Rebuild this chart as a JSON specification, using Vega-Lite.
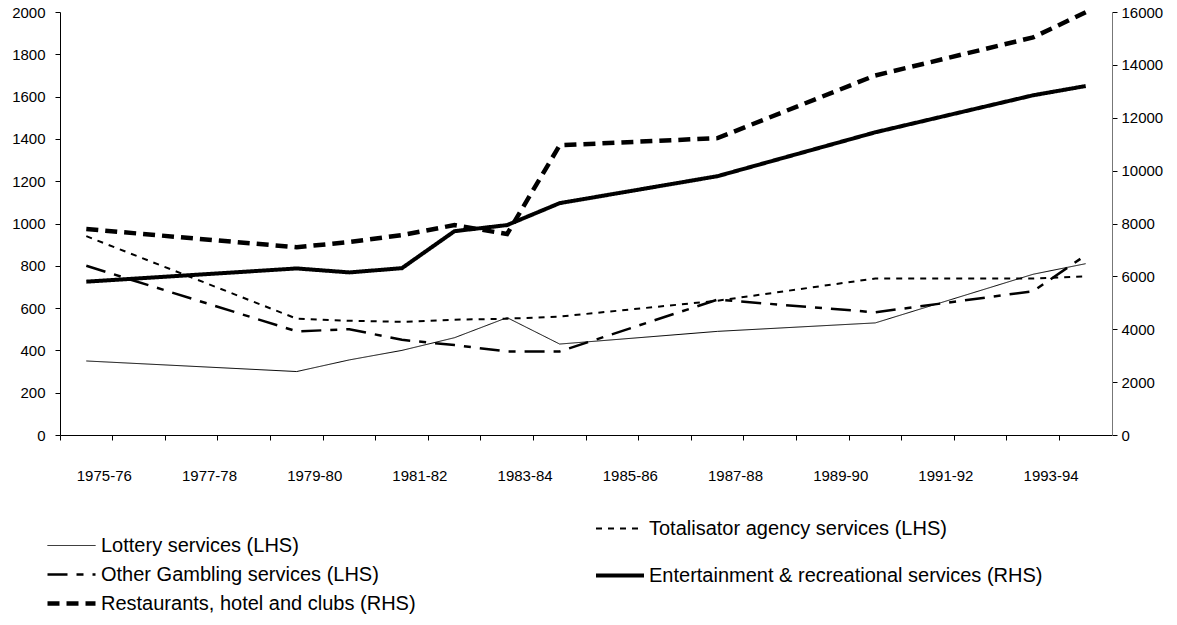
{
  "$schema": "https://vega.github.io/schema/vega-lite/v6.json",
  "width": 1052,
  "height": 423,
  "autosize": {"type": "none"},
  "padding": {"left": 60, "top": 12, "right": 65, "bottom": 190},
  "background": "white",
  "datasets": {
    "d": [
      {"series": "Lottery services (LHS)", "year": "1975-76", "value": 350},
      {"series": "Lottery services (LHS)", "year": "1979-80", "value": 300},
      {"series": "Lottery services (LHS)", "year": "1980-81", "value": 355},
      {"series": "Lottery services (LHS)", "year": "1981-82", "value": 400},
      {"series": "Lottery services (LHS)", "year": "1982-83", "value": 460},
      {"series": "Lottery services (LHS)", "year": "1983-84", "value": 555},
      {"series": "Lottery services (LHS)", "year": "1984-85", "value": 430},
      {"series": "Lottery services (LHS)", "year": "1987-88", "value": 490},
      {"series": "Lottery services (LHS)", "year": "1990-91", "value": 530},
      {"series": "Lottery services (LHS)", "year": "1993-94", "value": 760},
      {"series": "Lottery services (LHS)", "year": "1994-95", "value": 810},
      {"series": "Other Gambling services (LHS)", "year": "1975-76", "value": 800},
      {"series": "Other Gambling services (LHS)", "year": "1979-80", "value": 490},
      {"series": "Other Gambling services (LHS)", "year": "1980-81", "value": 500},
      {"series": "Other Gambling services (LHS)", "year": "1981-82", "value": 450},
      {"series": "Other Gambling services (LHS)", "year": "1982-83", "value": 425},
      {"series": "Other Gambling services (LHS)", "year": "1983-84", "value": 395},
      {"series": "Other Gambling services (LHS)", "year": "1984-85", "value": 395},
      {"series": "Other Gambling services (LHS)", "year": "1987-88", "value": 640},
      {"series": "Other Gambling services (LHS)", "year": "1990-91", "value": 580},
      {"series": "Other Gambling services (LHS)", "year": "1993-94", "value": 680},
      {"series": "Other Gambling services (LHS)", "year": "1994-95", "value": 850},
      {"series": "Totalisator agency services (LHS)", "year": "1975-76", "value": 940},
      {"series": "Totalisator agency services (LHS)", "year": "1979-80", "value": 550},
      {"series": "Totalisator agency services (LHS)", "year": "1980-81", "value": 540},
      {"series": "Totalisator agency services (LHS)", "year": "1981-82", "value": 535},
      {"series": "Totalisator agency services (LHS)", "year": "1982-83", "value": 545},
      {"series": "Totalisator agency services (LHS)", "year": "1983-84", "value": 550},
      {"series": "Totalisator agency services (LHS)", "year": "1984-85", "value": 560},
      {"series": "Totalisator agency services (LHS)", "year": "1987-88", "value": 635},
      {"series": "Totalisator agency services (LHS)", "year": "1990-91", "value": 740},
      {"series": "Totalisator agency services (LHS)", "year": "1993-94", "value": 740},
      {"series": "Totalisator agency services (LHS)", "year": "1994-95", "value": 750},
      {"series": "Restaurants, hotel and clubs (RHS)", "year": "1975-76", "value": 7790},
      {"series": "Restaurants, hotel and clubs (RHS)", "year": "1979-80", "value": 7100},
      {"series": "Restaurants, hotel and clubs (RHS)", "year": "1980-81", "value": 7300},
      {"series": "Restaurants, hotel and clubs (RHS)", "year": "1981-82", "value": 7560},
      {"series": "Restaurants, hotel and clubs (RHS)", "year": "1982-83", "value": 7940},
      {"series": "Restaurants, hotel and clubs (RHS)", "year": "1983-84", "value": 7600},
      {"series": "Restaurants, hotel and clubs (RHS)", "year": "1984-85", "value": 10960},
      {"series": "Restaurants, hotel and clubs (RHS)", "year": "1987-88", "value": 11230},
      {"series": "Restaurants, hotel and clubs (RHS)", "year": "1990-91", "value": 13600},
      {"series": "Restaurants, hotel and clubs (RHS)", "year": "1993-94", "value": 15040},
      {"series": "Restaurants, hotel and clubs (RHS)", "year": "1994-95", "value": 15990},
      {"series": "Entertainment & recreational services (RHS)", "year": "1975-76", "value": 5800},
      {"series": "Entertainment & recreational services (RHS)", "year": "1979-80", "value": 6300},
      {"series": "Entertainment & recreational services (RHS)", "year": "1980-81", "value": 6150},
      {"series": "Entertainment & recreational services (RHS)", "year": "1981-82", "value": 6310},
      {"series": "Entertainment & recreational services (RHS)", "year": "1982-83", "value": 7710},
      {"series": "Entertainment & recreational services (RHS)", "year": "1983-84", "value": 7940},
      {"series": "Entertainment & recreational services (RHS)", "year": "1984-85", "value": 8770},
      {"series": "Entertainment & recreational services (RHS)", "year": "1987-88", "value": 9790},
      {"series": "Entertainment & recreational services (RHS)", "year": "1990-91", "value": 11450},
      {"series": "Entertainment & recreational services (RHS)", "year": "1993-94", "value": 12850},
      {"series": "Entertainment & recreational services (RHS)", "year": "1994-95", "value": 13200}
    ]
  },
  "data": {"name": "d"},
  "config": {
    "view": {"stroke": null},
    "font": "Liberation Sans",
    "axis": {"labelFont": "Liberation Sans", "labelFontSize": 15, "labelColor": "black", "grid": false, "title": null, "domainColor": "black", "tickColor": "black", "domainWidth": 1, "tickWidth": 1},
    "legend": {"labelFont": "Liberation Sans", "labelFontSize": 20, "labelColor": "black", "labelLimit": 0, "symbolType": "stroke", "symbolSize": 2304, "symbolOpacity": 1, "padding": 0, "labelOffset": 3, "clipHeight": 29, "direction": "vertical", "orient": "none"}
  },
  "layer": [
    {
      "layer": [
        {
          "transform": [{"filter": "datum.series == 'Lottery services (LHS)' || datum.series == 'Other Gambling services (LHS)'"}],
          "mark": {"type": "line"},
          "encoding": {
            "x": {"field": "year", "type": "ordinal", "bandPosition": 0.5, "title": null,
              "scale": {"type": "band", "paddingInner": 0, "paddingOuter": 0, "domain": ["1975-76","1976-77","1977-78","1978-79","1979-80","1980-81","1981-82","1982-83","1983-84","1984-85","1985-86","1986-87","1987-88","1988-89","1989-90","1990-91","1991-92","1992-93","1993-94","1994-95"]},
              "axis": {"bandPosition": 0, "tickSize": 5, "labelAngle": 0, "labelAlign": "center", "labelBaseline": "top", "labelPadding": 28, "labelOffset": 18, "labelOverlap": false, "labelExpr": "toNumber(slice(datum.value,0,4)) % 2 == 1 ? datum.value : ''"}},
            "y": {"field": "value", "type": "quantitative", "title": null,
              "scale": {"domain": [0, 2000], "nice": false, "zero": true},
              "axis": {"orient": "left", "format": "d", "values": [0,200,400,600,800,1000,1200,1400,1600,1800,2000], "tickSize": 5, "labelPadding": 10}},
            "color": {"field": "series", "type": "nominal",
              "scale": {"domain": ["Lottery services (LHS)", "Other Gambling services (LHS)", "Restaurants, hotel and clubs (RHS)"], "range": ["black", "black", "black"]},
              "legend": {"title": null, "legendX": -15, "legendY": 519, "rowPadding": 0}},
            "strokeDash": {"field": "series", "type": "nominal",
              "scale": {"domain": ["Lottery services (LHS)", "Other Gambling services (LHS)", "Restaurants, hotel and clubs (RHS)"], "range": [[1, 0], [20, 9, 7, 9], [12, 7]]},
              "legend": {"title": null, "legendX": -15, "legendY": 519, "rowPadding": 0}},
            "strokeWidth": {"field": "series", "type": "nominal",
              "scale": {"type": "ordinal", "domain": ["Lottery services (LHS)", "Other Gambling services (LHS)", "Restaurants, hotel and clubs (RHS)"], "range": [1, 2.5, 4.5]},
              "legend": {"title": null, "legendX": -15, "legendY": 519, "rowPadding": 0}}
          }
        },
        {
          "transform": [{"filter": "datum.series == 'Restaurants, hotel and clubs (RHS)'"}],
          "mark": {"type": "line"},
          "encoding": {
            "x": {"field": "year", "type": "ordinal", "bandPosition": 0.5, "title": null,
              "scale": {"type": "band", "paddingInner": 0, "paddingOuter": 0, "domain": ["1975-76","1976-77","1977-78","1978-79","1979-80","1980-81","1981-82","1982-83","1983-84","1984-85","1985-86","1986-87","1987-88","1988-89","1989-90","1990-91","1991-92","1992-93","1993-94","1994-95"]},
              "axis": {"bandPosition": 0, "tickSize": 5, "labelAngle": 0, "labelAlign": "center", "labelBaseline": "top", "labelPadding": 28, "labelOffset": 18, "labelOverlap": false, "labelExpr": "toNumber(slice(datum.value,0,4)) % 2 == 1 ? datum.value : ''"}},
            "y": {"field": "value", "type": "quantitative", "title": null,
              "scale": {"domain": [0, 16000], "nice": false, "zero": true},
              "axis": {"orient": "right", "format": "d", "values": [0,2000,4000,6000,8000,10000,12000,14000,16000], "tickSize": 5, "labelPadding": 4, "domainColor": "#777777"}},
            "color": {"field": "series", "type": "nominal",
              "scale": {"domain": ["Lottery services (LHS)", "Other Gambling services (LHS)", "Restaurants, hotel and clubs (RHS)"], "range": ["black", "black", "black"]},
              "legend": {"title": null, "legendX": -15, "legendY": 519, "rowPadding": 0}},
            "strokeDash": {"field": "series", "type": "nominal",
              "scale": {"domain": ["Lottery services (LHS)", "Other Gambling services (LHS)", "Restaurants, hotel and clubs (RHS)"], "range": [[1, 0], [20, 9, 7, 9], [12, 7]]},
              "legend": {"title": null, "legendX": -15, "legendY": 519, "rowPadding": 0}},
            "strokeWidth": {"field": "series", "type": "nominal",
              "scale": {"type": "ordinal", "domain": ["Lottery services (LHS)", "Other Gambling services (LHS)", "Restaurants, hotel and clubs (RHS)"], "range": [1, 2.5, 4.5]},
              "legend": {"title": null, "legendX": -15, "legendY": 519, "rowPadding": 0}}
          }
        }
      ],
      "resolve": {"scale": {"y": "independent"}}
    },
    {
      "layer": [
        {
          "transform": [{"filter": "datum.series == 'Totalisator agency services (LHS)'"}],
          "mark": {"type": "line"},
          "encoding": {
            "x": {"field": "year", "type": "ordinal", "bandPosition": 0.5, "title": null,
              "scale": {"type": "band", "paddingInner": 0, "paddingOuter": 0, "domain": ["1975-76","1976-77","1977-78","1978-79","1979-80","1980-81","1981-82","1982-83","1983-84","1984-85","1985-86","1986-87","1987-88","1988-89","1989-90","1990-91","1991-92","1992-93","1993-94","1994-95"]},
              "axis": {"bandPosition": 0, "tickSize": 5, "labelAngle": 0, "labelAlign": "center", "labelBaseline": "top", "labelPadding": 28, "labelOffset": 18, "labelOverlap": false, "labelExpr": "toNumber(slice(datum.value,0,4)) % 2 == 1 ? datum.value : ''"}},
            "y": {"field": "value", "type": "quantitative", "title": null,
              "scale": {"domain": [0, 2000], "nice": false, "zero": true},
              "axis": null},
            "color": {"field": "series", "type": "nominal",
              "scale": {"domain": ["Totalisator agency services (LHS)", "Entertainment & recreational services (RHS)"], "range": ["black", "black"]},
              "legend": {"title": null, "legendX": 534, "legendY": 502, "rowPadding": 18}},
            "strokeDash": {"field": "series", "type": "nominal",
              "scale": {"domain": ["Totalisator agency services (LHS)", "Entertainment & recreational services (RHS)"], "range": [[6, 6], [1, 0]]},
              "legend": {"title": null, "legendX": 534, "legendY": 502, "rowPadding": 18}},
            "strokeWidth": {"field": "series", "type": "nominal",
              "scale": {"type": "ordinal", "domain": ["Totalisator agency services (LHS)", "Entertainment & recreational services (RHS)"], "range": [2, 4]},
              "legend": {"title": null, "legendX": 534, "legendY": 502, "rowPadding": 18}}
          }
        },
        {
          "transform": [{"filter": "datum.series == 'Entertainment & recreational services (RHS)'"}],
          "mark": {"type": "line"},
          "encoding": {
            "x": {"field": "year", "type": "ordinal", "bandPosition": 0.5, "title": null,
              "scale": {"type": "band", "paddingInner": 0, "paddingOuter": 0, "domain": ["1975-76","1976-77","1977-78","1978-79","1979-80","1980-81","1981-82","1982-83","1983-84","1984-85","1985-86","1986-87","1987-88","1988-89","1989-90","1990-91","1991-92","1992-93","1993-94","1994-95"]},
              "axis": {"bandPosition": 0, "tickSize": 5, "labelAngle": 0, "labelAlign": "center", "labelBaseline": "top", "labelPadding": 28, "labelOffset": 18, "labelOverlap": false, "labelExpr": "toNumber(slice(datum.value,0,4)) % 2 == 1 ? datum.value : ''"}},
            "y": {"field": "value", "type": "quantitative", "title": null,
              "scale": {"domain": [0, 16000], "nice": false, "zero": true},
              "axis": null},
            "color": {"field": "series", "type": "nominal",
              "scale": {"domain": ["Totalisator agency services (LHS)", "Entertainment & recreational services (RHS)"], "range": ["black", "black"]},
              "legend": {"title": null, "legendX": 534, "legendY": 502, "rowPadding": 18}},
            "strokeDash": {"field": "series", "type": "nominal",
              "scale": {"domain": ["Totalisator agency services (LHS)", "Entertainment & recreational services (RHS)"], "range": [[6, 6], [1, 0]]},
              "legend": {"title": null, "legendX": 534, "legendY": 502, "rowPadding": 18}},
            "strokeWidth": {"field": "series", "type": "nominal",
              "scale": {"type": "ordinal", "domain": ["Totalisator agency services (LHS)", "Entertainment & recreational services (RHS)"], "range": [2, 4]},
              "legend": {"title": null, "legendX": 534, "legendY": 502, "rowPadding": 18}}
          }
        }
      ],
      "resolve": {"scale": {"y": "independent"}}
    }
  ],
  "resolve": {
    "scale": {"y": "independent", "color": "independent", "strokeDash": "independent", "strokeWidth": "independent"},
    "legend": {"color": "independent", "strokeDash": "independent", "strokeWidth": "independent"}
  }
}
